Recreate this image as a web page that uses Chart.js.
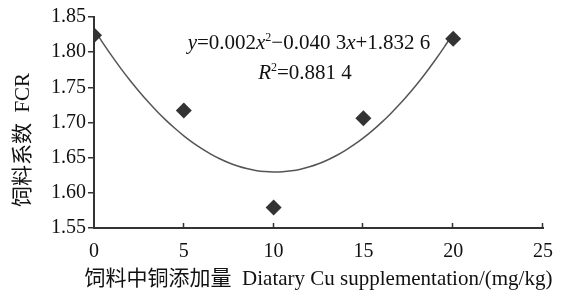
<!DOCTYPE html>
<html>
<head>
<meta charset="utf-8">
<script src="https://cdn.jsdelivr.net/npm/chart.js@4"></script>
<style>
  html, body { margin: 0; padding: 0; background: #fff; }
  #wrap { width: 581px; height: 302px; }
</style>
</head>
<body>
<div id="wrap"><canvas id="fcrChart" width="581" height="302"></canvas></div>
<script>
// data
const cuLevels = [0, 5, 10, 15, 20];
const fcrValues = [1.824, 1.717, 1.579, 1.706, 1.819];
// fitted curve y = c0 + c1*x + c2*x^2 as printed on the chart
const fitCoef = [1.8326, -0.0403, 0.002];
const fitRange = [0, 20];
const eqRuns = [
  { t: 'y', it: true }, { t: '=0.002' }, { t: 'x', it: true }, { t: '2', sup: true },
  { t: '\u22120.040 3' }, { t: 'x', it: true }, { t: '+1.832 6' }
];
const r2Runs = [{ t: 'R', it: true }, { t: '2', sup: true }, { t: '=0.881 4' }];
const xTitleRuns = [{ t: '饲料中铜添加量  ' }, { t: 'Diatary Cu supplementation/(mg/kg)' }];
const yTitleRuns = [{ t: '饲料系数  ' }, { t: 'FCR' }];

const SERIF = '"Liberation Serif", "Times New Roman", "Noto Sans CJK SC", serif';

const fitPoints = [];
for (let x = fitRange[0]; x <= fitRange[1] + 1e-9; x += 0.5) {
  fitPoints.push({ x: x, y: fitCoef[0] + fitCoef[1] * x + fitCoef[2] * x * x });
}

function drawRuns(ctx, runs, cx, cy, size) {
  const parts = runs.map(r => {
    const f = (r.it ? 'italic ' : '') + (r.sup ? Math.round(size * 0.58) : size) + 'px ' + SERIF;
    ctx.font = f;
    return { r: r, f: f, w: ctx.measureText(r.t).width };
  });
  let x = cx - parts.reduce((s, p) => s + p.w, 0) / 2;
  ctx.textBaseline = 'alphabetic';
  ctx.textAlign = 'left';
  parts.forEach(p => {
    ctx.font = p.f;
    ctx.fillText(p.r.t, x, cy + (p.r.sup ? -size * 0.38 : 0));
    x += p.w;
  });
}

const extras = {
  id: 'extras',
  afterDraw(chart) {
    const ctx = chart.ctx;
    const xs = chart.scales.x, ys = chart.scales.y;
    ctx.save();
    ctx.strokeStyle = '#333';
    ctx.lineWidth = 1.5;
    // inward tick marks on x axis
    xs.ticks.forEach(t => {
      if (t.value === 0) return;
      const px = Math.round(xs.getPixelForValue(t.value)) - 0.5;
      ctx.beginPath();
      ctx.moveTo(px, ys.bottom);
      ctx.lineTo(px, ys.bottom - 5);
      ctx.stroke();
    });
    ctx.fillStyle = '#111';
    drawRuns(ctx, eqRuns, 309, 49, 21);
    drawRuns(ctx, r2Runs, 305, 79, 21);
    drawRuns(ctx, xTitleRuns, (xs.left + xs.right) / 2, 285, 21);
    // y axis title
    ctx.translate(29, 140);
    ctx.rotate(-Math.PI / 2);
    drawRuns(ctx, yTitleRuns, 0, 0, 21);
    ctx.restore();
  }
};

new Chart(document.getElementById('fcrChart'), {
  type: 'scatter',
  data: {
    datasets: [{
      label: 'FCR',
      data: cuLevels.map((x, i) => ({ x: x, y: fcrValues[i] })),
      pointStyle: 'rectRot',
      pointRadius: 8,
      backgroundColor: '#333',
      borderColor: '#333',
      borderWidth: 0,
      order: 1
    }, {
      label: 'fit',
      data: fitPoints,
      showLine: true,
      pointRadius: 0,
      borderColor: '#555',
      borderWidth: 1.5,
      tension: 0.3,
      order: 2
    }]
  },
  options: {
    responsive: false,
    animation: false,
    events: [],
    layout: { padding: { left: 0, right: 38, top: 17, bottom: 0 } },
    plugins: { legend: { display: false }, tooltip: { enabled: false } },
    scales: {
      x: {
        type: 'linear', min: 0, max: 25,
        afterFit(s) { s.height = 74; },
        border: { color: '#333', width: 2 },
        grid: { display: false, drawTicks: false },
        ticks: { stepSize: 5, color: '#111', padding: 12, font: { family: SERIF, size: 20 } }
      },
      y: {
        min: 1.55, max: 1.85,
        afterFit(s) { s.width = 94; },
        border: { color: '#333', width: 2 },
        grid: { drawOnChartArea: false, tickLength: 6, color: '#333', lineWidth: 1.5 },
        ticks: {
          stepSize: 0.05, color: '#111', padding: 2,
          font: { family: SERIF, size: 20 },
          callback: v => v.toFixed(2)
        }
      }
    }
  },
  plugins: [extras]
});
</script>
</body>
</html>
